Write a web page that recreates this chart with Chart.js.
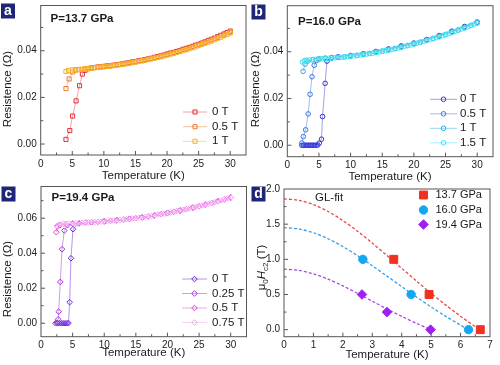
<!DOCTYPE html>
<html>
<head>
<meta charset="utf-8">
<script src="https://cdn.jsdelivr.net/npm/chart.js@4.4.1/dist/chart.umd.min.js"></script>
<style>
  body { margin: 0; background: #fff; }
  #wrap { position: relative; width: 500px; height: 365px; }
  #wrap canvas { position: absolute; left: 0; top: 0; }
</style>
</head>
<body>
<div id="wrap">
  <canvas id="panelA" width="500" height="365"></canvas>
  <canvas id="panelB" width="500" height="365"></canvas>
  <canvas id="panelC" width="500" height="365"></canvas>
  <canvas id="panelD" width="500" height="365"></canvas>
</div>
<script>
// ---- panel a : P = 13.7 GPa ----
const tA0 = [4.0, 4.6, 5.05, 5.6, 6.15, 6.6, 7.0, 7.5, 8.0, 8.5, 9.0, 9.5, 10.0, 10.5, 11.0, 11.5, 12.0, 12.5, 13.0, 13.5, 14.0, 14.5, 15.0, 15.5, 16.0, 16.5, 17.0, 17.5, 18.0, 18.5, 19.0, 19.5, 20.0, 20.5, 21.0, 21.5, 22.0, 22.5, 23.0, 23.5, 24.0, 24.5, 25.0, 25.5, 26.0, 26.5, 27.0, 27.5, 28.0, 28.5, 29.0, 29.5, 30.0];
const rA0 = [0.0020, 0.0058, 0.0120, 0.0185, 0.0250, 0.0300, 0.0316, 0.0323, 0.0326, 0.0328, 0.0330, 0.0331, 0.0333, 0.0335, 0.0336, 0.0338, 0.0340, 0.0342, 0.0344, 0.0347, 0.0349, 0.0352, 0.0354, 0.0357, 0.0359, 0.0362, 0.0365, 0.0368, 0.0372, 0.0375, 0.0378, 0.0382, 0.0386, 0.0390, 0.0393, 0.0397, 0.0401, 0.0406, 0.0410, 0.0414, 0.0419, 0.0424, 0.0428, 0.0433, 0.0438, 0.0444, 0.0449, 0.0454, 0.0460, 0.0466, 0.0472, 0.0478, 0.0484];
const tA05 = [4.0, 4.5, 5.05, 5.5, 6, 7, 8, 9, 10, 11, 12, 13, 14, 15, 16, 17, 18, 19, 20, 21, 22, 23, 24, 25, 26, 27, 28, 29, 30];
const rA05 = [0.0238, 0.0279, 0.0309, 0.0317, 0.0319, 0.0322, 0.0326, 0.0329, 0.0332, 0.0336, 0.0339, 0.0343, 0.0348, 0.0353, 0.0358, 0.0364, 0.0370, 0.0377, 0.0384, 0.0391, 0.0399, 0.0407, 0.0416, 0.0426, 0.0435, 0.0446, 0.0457, 0.0468, 0.0480];
const tA1 = [4.0, 4.4, 5.0, 5.5, 6.0, 6.5, 7.0, 7.5, 8.0, 8.5, 9.0, 9.5, 10.0, 10.5, 11.0, 11.5, 12.0, 12.5, 13.0, 13.5, 14.0, 14.5, 15.0, 15.5, 16.0, 16.5, 17.0, 17.5, 18.0, 18.5, 19.0, 19.5, 20.0, 20.5, 21.0, 21.5, 22.0, 22.5, 23.0, 23.5, 24.0, 24.5, 25.0, 25.5, 26.0, 26.5, 27.0, 27.5, 28.0, 28.5, 29.0, 29.5, 30.0];
const rA1 = [0.0311, 0.0316, 0.0318, 0.0319, 0.0320, 0.0321, 0.0322, 0.0324, 0.0325, 0.0327, 0.0328, 0.0330, 0.0331, 0.0333, 0.0334, 0.0336, 0.0338, 0.0340, 0.0342, 0.0344, 0.0346, 0.0349, 0.0351, 0.0354, 0.0356, 0.0359, 0.0362, 0.0365, 0.0368, 0.0371, 0.0374, 0.0378, 0.0381, 0.0385, 0.0388, 0.0392, 0.0396, 0.0400, 0.0404, 0.0408, 0.0413, 0.0417, 0.0422, 0.0427, 0.0432, 0.0437, 0.0442, 0.0447, 0.0453, 0.0458, 0.0464, 0.0470, 0.0476];

// ---- panel b : P = 16.0 GPa ----
const tB0 = [2.3, 2.55, 2.8, 3.05, 3.3, 3.55, 3.8, 4.05, 4.3, 4.55, 4.8, 5.05, 5.4, 5.57, 5.98, 6.27, 7, 8, 10, 12, 14, 16, 18, 20, 22, 24, 26, 28, 30];
const rB0 = [0, 0, 0, 0, 0, 0, 0, 0, 0, 0, 0.0001, 0.0009, 0.0026, 0.0123, 0.0265, 0.0360, 0.0374, 0.0378, 0.0384, 0.0391, 0.0401, 0.0412, 0.0425, 0.0437, 0.0452, 0.0469, 0.0488, 0.0508, 0.0527];
const tB05 = [2.3, 2.53, 2.9, 3.3, 3.6, 3.9, 4.25, 4.6, 5, 6, 7, 8, 10, 12, 14, 16, 18, 20, 22, 24, 26, 28, 30];
const rB05 = [0.0010, 0.0037, 0.0066, 0.0134, 0.0218, 0.0293, 0.0342, 0.0362, 0.0368, 0.0372, 0.0375, 0.0377, 0.0383, 0.0390, 0.0400, 0.0410, 0.0422, 0.0435, 0.0450, 0.0467, 0.0485, 0.0505, 0.0525];
const tB1 = [2.5, 2.8, 3.2, 4, 5, 6, 7, 8, 9, 10, 11, 12, 13, 14, 15, 16, 17, 18, 19, 20, 21, 22, 23, 24, 25, 26, 27, 28, 29, 30];
const rB1 = [0.0316, 0.0347, 0.0360, 0.0366, 0.0370, 0.0372, 0.0374, 0.0376, 0.0378, 0.0382, 0.0385, 0.0389, 0.0393, 0.0398, 0.0403, 0.0408, 0.0414, 0.0420, 0.0427, 0.0434, 0.0441, 0.0449, 0.0457, 0.0465, 0.0474, 0.0484, 0.0493, 0.0503, 0.0513, 0.0524];
const tB15 = [2.4, 2.7, 3.0, 3.5, 4.0, 4.5, 5.0, 5.5, 6.0, 6.5, 7.0, 7.5, 8.0, 8.5, 9.0, 9.5, 10.0, 10.5, 11.0, 11.5, 12.0, 12.5, 13.0, 13.5, 14.0, 14.5, 15.0, 15.5, 16.0, 16.5, 17.0, 17.5, 18.0, 18.5, 19.0, 19.5, 20.0, 20.5, 21.0, 21.5, 22.0, 22.5, 23.0, 23.5, 24.0, 24.5, 25.0, 25.5, 26.0, 26.5, 27.0, 27.5, 28.0, 28.5, 29.0, 29.5, 30.0];
const rB15 = [0.0356, 0.0362, 0.0364, 0.0365, 0.0366, 0.0368, 0.0369, 0.0370, 0.0371, 0.0372, 0.0373, 0.0374, 0.0375, 0.0376, 0.0378, 0.0379, 0.0381, 0.0382, 0.0384, 0.0386, 0.0388, 0.0390, 0.0392, 0.0394, 0.0397, 0.0399, 0.0402, 0.0405, 0.0407, 0.0410, 0.0413, 0.0416, 0.0419, 0.0423, 0.0426, 0.0429, 0.0433, 0.0437, 0.0440, 0.0444, 0.0448, 0.0452, 0.0456, 0.0460, 0.0464, 0.0469, 0.0473, 0.0478, 0.0482, 0.0487, 0.0492, 0.0497, 0.0502, 0.0507, 0.0512, 0.0518, 0.0523];

// ---- panel c : P = 19.4 GPa ----
const tC0 = [2.3, 2.6, 2.9, 3.2, 3.5, 3.8, 4.1, 4.35, 4.53, 4.74, 5.06, 6, 8, 10, 12, 14, 16, 18, 20, 22, 24, 26, 28, 30];
const rC0 = [0, 0, 0, 0, 0, 0, 0, 0.0001, 0.0120, 0.0371, 0.0537, 0.0570, 0.0577, 0.0582, 0.0588, 0.0596, 0.0605, 0.0616, 0.0630, 0.0644, 0.0660, 0.0677, 0.0697, 0.0718];
const tC025 = [2.55, 2.72, 2.79, 3.05, 3.32, 3.69, 4.2, 5, 6, 8, 10, 12, 14, 16, 18, 20, 22, 24, 26, 28, 30];
const rC025 = [0.0003, 0.0023, 0.0066, 0.0236, 0.0423, 0.0529, 0.0560, 0.0568, 0.0572, 0.0577, 0.0582, 0.0588, 0.0596, 0.0605, 0.0616, 0.0630, 0.0644, 0.0660, 0.0677, 0.0697, 0.0718];
const tC05 = [2.42, 2.6, 3.0, 4, 5, 6, 7, 8, 9, 10, 11, 12, 13, 14, 15, 16, 17, 18, 19, 20, 21, 22, 23, 24, 25, 26, 27, 28, 29, 30];
const rC05 = [0.0520, 0.0552, 0.0560, 0.0566, 0.0570, 0.0573, 0.0575, 0.0577, 0.0579, 0.0582, 0.0585, 0.0588, 0.0592, 0.0596, 0.0600, 0.0605, 0.0610, 0.0616, 0.0623, 0.0630, 0.0637, 0.0644, 0.0652, 0.0660, 0.0668, 0.0677, 0.0687, 0.0697, 0.0707, 0.0718];
const tC075 = [2.5, 2.8, 3.2, 3.6, 4.0, 4.5, 5.0, 5.5, 6.0, 6.5, 7.0, 7.5, 8.0, 8.5, 9.0, 9.5, 10.0, 10.5, 11.0, 11.5, 12.0, 12.5, 13.0, 13.5, 14.0, 14.5, 15.0, 15.5, 16.0, 16.5, 17.0, 17.5, 18.0, 18.5, 19.0, 19.5, 20.0, 20.5, 21.0, 21.5, 22.0, 22.5, 23.0, 23.5, 24.0, 24.5, 25.0, 25.5, 26.0, 26.5, 27.0, 27.5, 28.0, 28.5, 29.0, 29.5, 30.0];
const rC075 = [0.0556, 0.0562, 0.0565, 0.0567, 0.0568, 0.0570, 0.0571, 0.0572, 0.0573, 0.0574, 0.0575, 0.0576, 0.0577, 0.0578, 0.0579, 0.0580, 0.0582, 0.0583, 0.0585, 0.0586, 0.0588, 0.0590, 0.0592, 0.0594, 0.0596, 0.0598, 0.0600, 0.0602, 0.0605, 0.0607, 0.0610, 0.0613, 0.0616, 0.0620, 0.0623, 0.0626, 0.0630, 0.0633, 0.0637, 0.0641, 0.0644, 0.0648, 0.0652, 0.0656, 0.0660, 0.0664, 0.0668, 0.0673, 0.0677, 0.0682, 0.0687, 0.0692, 0.0697, 0.0702, 0.0707, 0.0713, 0.0718];

// ---- panel d : upper critical field ----
const hcT137 = [3.73, 4.93, 6.67];
const hcH137 = [1.0, 0.5, 0.0];
const hcT160 = [2.68, 4.32, 6.27];
const hcH160 = [1.0, 0.5, 0.0];
const hcT194 = [2.65, 3.5, 4.98];
const hcH194 = [0.5, 0.25, 0.0];
const fitT137 = [0, 0.5, 1, 1.5, 2, 2.5, 3, 3.5, 4, 4.5, 5, 5.5, 6, 6.5];
const fitH137 = [1.86, 1.839, 1.778, 1.680, 1.551, 1.400, 1.231, 1.053, 0.872, 0.692, 0.517, 0.349, 0.191, 0.042];
const fitT160 = [0, 0.5, 1, 1.5, 2, 2.5, 3, 3.5, 4, 4.5, 5, 5.5, 6, 6.2];
const fitH160 = [1.45, 1.432, 1.378, 1.293, 1.182, 1.052, 0.910, 0.761, 0.611, 0.464, 0.323, 0.189, 0.064, 0.016];
const fitT194 = [0, 0.5, 1, 1.5, 2, 2.5, 3, 3.5, 4, 4.5, 5];
const fitH194 = [0.86, 0.843, 0.794, 0.718, 0.623, 0.516, 0.405, 0.294, 0.189, 0.090, 0.0];

const FONT = '"Liberation Sans", Arial, sans-serif';
const INK = '#1a1a1a';
const CLEAR = 'rgba(255,255,255,0)';

function pts(xs, ys) { return xs.map((x, i) => ({ x: x, y: ys[i] })); }
function isMult(v, step) { const k = v / step; return Math.abs(k - Math.round(k)) < 1e-6; }

function marker(ctx, style, r, x, y) {
  ctx.beginPath();
  if (style === 'rect') {
    const s = r * Math.SQRT1_2;
    ctx.rect(x - s, y - s, 2 * s, 2 * s);
  } else if (style === 'rectRot') {
    ctx.moveTo(x - r, y); ctx.lineTo(x, y - r); ctx.lineTo(x + r, y); ctx.lineTo(x, y + r); ctx.closePath();
  } else {
    ctx.arc(x, y, r, 0, Math.PI * 2);
  }
  ctx.fill();
  ctx.stroke();
}

function openSeries(xs, ys, s, order) {
  return {
    data: pts(xs, ys), showLine: true, order: order,
    borderColor: s.line, borderWidth: 1,
    pointStyle: s.style, pointRadius: s.r, pointHoverRadius: s.r,
    pointBorderColor: s.color, pointBackgroundColor: CLEAR, pointBorderWidth: 1
  };
}

const Y_AXIS_W = 38;
const X_AXIS_H = 18;

function makePanel(id, p, datasets) {
  const decor = {
    id: 'decor',
    afterDraw(chart) {
      const ctx = chart.ctx, a = chart.chartArea;
      const sx = chart.scales.x, sy = chart.scales.y;
      ctx.save();
      ctx.strokeStyle = '#555';
      ctx.lineWidth = 1;
      ctx.strokeRect(a.left, a.top, a.right - a.left, a.bottom - a.top);
      // inward ticks
      sx.ticks.forEach(t => {
        if (!isMult(t.value, p.xMinor)) return;
        const px = sx.getPixelForValue(t.value);
        if (px < a.left + 1 || px > a.right - 1) return;
        const len = isMult(t.value, p.xMajor) ? 4 : 2.5;
        ctx.beginPath(); ctx.moveTo(px, a.bottom); ctx.lineTo(px, a.bottom - len); ctx.stroke();
      });
      sy.ticks.forEach(t => {
        if (!isMult(t.value, p.yMinor)) return;
        const py = sy.getPixelForValue(t.value);
        if (py < a.top + 1 || py > a.bottom - 1) return;
        const len = isMult(t.value, p.yMajor) ? 4 : 2.5;
        ctx.beginPath(); ctx.moveTo(a.left, py); ctx.lineTo(a.left + len, py); ctx.stroke();
      });
      // panel letter
      ctx.fillStyle = '#1f2577';
      ctx.fillRect(p.tag[0], p.tag[1], 14, 15);
      ctx.fillStyle = '#fff';
      ctx.font = 'bold 14px ' + FONT;
      ctx.textAlign = 'center';
      ctx.textBaseline = 'alphabetic';
      ctx.fillText(p.letter, p.tag[0] + 7, p.tag[1] + 11.5);
      // pressure title
      ctx.fillStyle = INK;
      if (p.title) {
        ctx.font = 'bold 11.5px ' + FONT;
        ctx.textAlign = 'left';
        ctx.fillText(p.title, p.titlePos[0], p.titlePos[1]);
      }
      // x title
      ctx.font = '11.5px ' + FONT;
      ctx.textAlign = 'center';
      ctx.fillText('Temperature (K)', p.xTitle[0], p.xTitle[1]);
      // y title
      ctx.save();
      ctx.translate(p.yTitle[0], p.yTitle[1]);
      ctx.rotate(-Math.PI / 2);
      if (p.yParts) {
        let w = 0;
        p.yParts.forEach(q => { ctx.font = q.f + FONT; w += ctx.measureText(q.t).width; });
        let x = -w / 2;
        ctx.textAlign = 'left';
        p.yParts.forEach(q => {
          ctx.font = q.f + FONT;
          ctx.fillText(q.t, x, 4 + q.dy);
          x += ctx.measureText(q.t).width;
        });
      } else {
        ctx.textBaseline = 'middle';
        ctx.fillText(p.yText, 0, 0);
      }
      ctx.restore();
      // legend
      const lg = p.legend;
      lg.items.forEach((it, i) => {
        const y = lg.ys[i];
        if (lg.x1 !== undefined) {
          ctx.strokeStyle = it.line; ctx.lineWidth = 1;
          ctx.beginPath(); ctx.moveTo(lg.x1, y); ctx.lineTo(lg.x2, y); ctx.stroke();
        }
        ctx.strokeStyle = it.color;
        ctx.fillStyle = it.fill || CLEAR;
        marker(ctx, it.style, it.r, lg.mx, y);
        ctx.fillStyle = INK;
        ctx.font = lg.font + FONT;
        ctx.textAlign = 'left';
        ctx.textBaseline = 'middle';
        ctx.fillText(it.text, lg.tx, y);
      });
      if (p.note) {
        ctx.font = '11.5px ' + FONT;
        ctx.textAlign = 'left';
        ctx.textBaseline = 'middle';
        ctx.fillText(p.note.text, p.note.x, p.note.y);
      }
      ctx.restore();
    }
  };

  const tickFont = { family: FONT, size: 10 };
  return new Chart(document.getElementById(id), {
    type: 'scatter',
    data: { datasets: datasets },
    options: {
      responsive: false,
      animation: false,
      devicePixelRatio: 1,
      events: [],
      layout: { padding: { left: p.box.L - Y_AXIS_W, right: 500 - p.box.R, top: p.box.T, bottom: 365 - p.box.B - X_AXIS_H } },
      plugins: { legend: { display: false }, tooltip: { enabled: false } },
      scales: {
        x: {
          type: 'linear', min: p.x[0], max: p.x[1],
          grid: { display: false, drawTicks: false }, border: { display: false },
          ticks: {
            stepSize: p.xMinor, includeBounds: false, autoSkip: false, maxRotation: 0, padding: 3,
            color: '#222', font: tickFont,
            callback: v => isMult(v, p.xMajor) ? (Math.round(v / p.xMajor) * p.xMajor).toFixed(p.xDec) : ''
          },
          afterFit: s => { s.height = X_AXIS_H; s.paddingLeft = 0; s.paddingRight = 0; }
        },
        y: {
          type: 'linear', min: p.y[0], max: p.y[1],
          grid: { display: false, drawTicks: false }, border: { display: false },
          ticks: {
            stepSize: p.yMinor, includeBounds: false, autoSkip: false, padding: 4,
            color: '#222', font: tickFont,
            callback: v => isMult(v, p.yMajor) ? (Math.round(v / p.yMajor) * p.yMajor).toFixed(p.yDec) : ''
          },
          afterFit: s => { s.width = Y_AXIS_W; s.paddingTop = 0; s.paddingBottom = 0; }
        }
      }
    },
    plugins: [decor]
  });
}

// styles
const sqA = [
  { text: '0 T', color: '#e8303a', line: '#f2a2a6', style: 'rect', r: 2.9 },
  { text: '0.5 T', color: '#ee7a2e', line: '#f5bf98', style: 'rect', r: 2.9 },
  { text: '1 T', color: '#f5b224', line: '#f9da90', style: 'rect', r: 2.9 }
];
const ciB = [
  { text: '0 T', color: '#3434d6', line: '#a0a0ea', style: 'circle', r: 2.3 },
  { text: '0.5 T', color: '#3a78e2', line: '#a0bdf0', style: 'circle', r: 2.3 },
  { text: '1 T', color: '#2ca8e4', line: '#9ad4f2', style: 'circle', r: 2.3 },
  { text: '1.5 T', color: '#3ee0ec', line: '#a6f0f6', style: 'circle', r: 2.3 }
];
const diC = [
  { text: '0 T', color: '#6c2cd8', line: '#b496ea', style: 'rectRot', r: 2.8 },
  { text: '0.25 T', color: '#a232d8', line: '#d29cee', style: 'rectRot', r: 2.8 },
  { text: '0.5 T', color: '#e040d2', line: '#f2a4ec', style: 'rectRot', r: 2.8 },
  { text: '0.75 T', color: '#f6a0f2', line: '#fbd2f8', style: 'rectRot', r: 2.8 }
];
const mkD = [
  { text: '13.7 GPa', color: '#f03020', fill: '#f03020', fit: '#e84848', style: 'rect', r: 5.6 },
  { text: '16.0 GPa', color: '#12a8f0', fill: '#12a8f0', fit: '#3a9ee6', style: 'circle', r: 4.2 },
  { text: '19.4 GPa', color: '#a020f0', fill: '#a020f0', fit: '#a848e4', style: 'rectRot', r: 4.8 }
];

makePanel('panelA', {
  box: { L: 40.7, R: 246, T: 5.5, B: 155 }, x: [0, 32.5], y: [-0.0047, 0.0594],
  xMinor: 2.5, xMajor: 5, xDec: 0, yMinor: 0.01, yMajor: 0.02, yDec: 2,
  letter: 'a', tag: [1, 3.5], title: 'P=13.7 GPa', titlePos: [50.5, 22],
  xTitle: [143.3, 179], yTitle: [8, 89], yText: 'Resistence (\u03A9)',
  legend: { x1: 183, x2: 207, mx: 195, tx: 212, ys: [112, 126.7, 141.3], font: '11.5px ', items: sqA }
}, [
  openSeries(tA0, rA0, sqA[0], 3),
  openSeries(tA05, rA05, sqA[1], 2),
  openSeries(tA1, rA1, sqA[2], 1)
]);

makePanel('panelB', {
  box: { L: 287.3, R: 493, T: 5.7, B: 156.7 }, x: [0, 32.5], y: [-0.0049, 0.0597],
  xMinor: 2.5, xMajor: 5, xDec: 0, yMinor: 0.01, yMajor: 0.02, yDec: 2,
  letter: 'b', tag: [251.5, 4.5], title: 'P=16.0 GPa', titlePos: [298, 24.5],
  xTitle: [390, 180], yTitle: [256, 89], yText: 'Resistence (\u03A9)',
  legend: { x1: 430, x2: 457, mx: 443.5, tx: 460, ys: [99.3, 113.8, 128.3, 142.8], font: '11.5px ', items: ciB }
}, [
  openSeries(tB0, rB0, ciB[0], 4),
  openSeries(tB05, rB05, ciB[1], 3),
  openSeries(tB1, rB1, ciB[2], 2),
  openSeries(tB15, rB15, ciB[3], 1)
]);

makePanel('panelC', {
  box: { L: 41, R: 246.5, T: 186.5, B: 336.7 }, x: [0, 32.5], y: [-0.0077, 0.0781],
  xMinor: 2.5, xMajor: 5, xDec: 0, yMinor: 0.01, yMajor: 0.02, yDec: 2,
  letter: 'c', tag: [1.5, 186.5], title: 'P=19.4 GPa', titlePos: [51.5, 201],
  xTitle: [143.7, 356], yTitle: [8, 279], yText: 'Resistence (\u03A9)',
  legend: { x1: 182, x2: 207, mx: 194.5, tx: 212, ys: [279, 293.5, 308, 322.5], font: '11.5px ', items: diC }
}, [
  openSeries(tC0, rC0, diC[0], 4),
  openSeries(tC025, rC025, diC[1], 3),
  openSeries(tC05, rC05, diC[2], 2),
  openSeries(tC075, rC075, diC[3], 1)
]);

function fitLine(xs, ys, m) {
  return {
    data: pts(xs, ys), showLine: true, order: 5, tension: 0.3,
    borderColor: m.fit, borderWidth: 1.3, borderDash: [3, 2], pointRadius: 0
  };
}
function dots(xs, ys, m) {
  return {
    data: pts(xs, ys), showLine: false, order: 1,
    pointStyle: m.style, pointRadius: m.r, pointHoverRadius: m.r,
    pointBackgroundColor: m.fill, pointBorderColor: m.color, pointBorderWidth: 1
  };
}

makePanel('panelD', {
  box: { L: 284, R: 490, T: 189, B: 336.7 }, x: [0, 7], y: [-0.1, 2.0],
  xMinor: 0.5, xMajor: 1, xDec: 0, yMinor: 0.25, yMajor: 0.5, yDec: 1,
  letter: 'd', tag: [251.5, 186.5],
  xTitle: [387, 358], yTitle: [261, 267.5],
  yParts: [
    { t: '\u03BC', f: '11.5px ', dy: 0 },
    { t: '0', f: '8px ', dy: 3 },
    { t: 'H', f: 'italic 11.5px ', dy: 0 },
    { t: 'c2', f: '8px ', dy: 3 },
    { t: ' (T)', f: '11.5px ', dy: 0 }
  ],
  note: { text: 'GL-fit', x: 315, y: 198 },
  legend: { mx: 423.5, tx: 435.5, ys: [195, 210, 224.5], font: '11px ', items: mkD }
}, [
  dots(hcT137, hcH137, mkD[0]),
  dots(hcT160, hcH160, mkD[1]),
  dots(hcT194, hcH194, mkD[2]),
  fitLine(fitT137, fitH137, mkD[0]),
  fitLine(fitT160, fitH160, mkD[1]),
  fitLine(fitT194, fitH194, mkD[2])
]);
</script>
</body>
</html>
